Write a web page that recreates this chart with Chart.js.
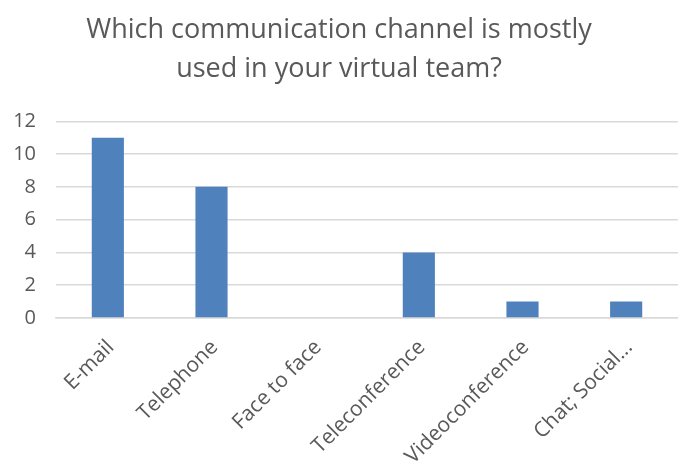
<!DOCTYPE html>
<html>
<head>
<meta charset="utf-8">
<script src="https://cdn.jsdelivr.net/npm/chart.js@4/dist/chart.umd.min.js"></script>
<style>
  html, body { margin: 0; padding: 0; background: #fff; }
  #wrap { width: 678px; height: 463px; }
</style>
</head>
<body>
<div id="wrap"><canvas id="chart" width="678" height="463"></canvas></div>
<script>
  const categories = ['E-mail', 'Telephone', 'Face to face', 'Teleconference', 'Videoconference', 'Chat; Social...'];
  const counts = [11, 8, 0, 4, 1, 1];
  const yTicks = [0, 2, 4, 6, 8, 10, 12];

  const grey = '#595959';
  Chart.defaults.font.family = "'Open Sans', 'Noto Sans', sans-serif";
  Chart.defaults.color = grey;

  new Chart(document.getElementById('chart'), {
    type: 'bar',
    data: {
      labels: categories,
      datasets: [{
        data: counts,
        backgroundColor: '#4f81bd',
        barPercentage: 0.31,
        categoryPercentage: 1
      }]
    },
    options: {
      responsive: false,
      animation: false,
      layout: { padding: { top: 11, right: 0, left: 0, bottom: 0 } },
      plugins: {
        legend: { display: false },
        tooltip: { enabled: false },
        title: {
          display: true,
          text: ['Which communication channel is mostly', 'used in your virtual team?'],
          color: grey,
          font: { size: 27, weight: 'normal', lineHeight: 1.45 },
          padding: { top: 0, bottom: 32 }
        }
      },
      scales: {
        x: {
          grid: { display: false },
          border: { color: '#d9d9d9', width: 1.5 },
          ticks: {
            color: grey,
            font: { size: 21 },
            minRotation: 45,
            maxRotation: 45,
            padding: 9,
            labelOffset: 3
          },
          afterFit: (s) => { s.height = 145; }
        },
        y: {
          min: 0,
          max: 12,
          afterBuildTicks: (s) => { s.ticks = yTicks.map(v => ({ value: v })); },
          grid: { color: '#d9d9d9', lineWidth: 1.5, drawTicks: false },
          border: { display: false },
          ticks: { color: grey, font: { size: 20 }, padding: 20 },
          afterFit: (s) => { s.width = 56; }
        }
      }
    }
  });
</script>
</body>
</html>
